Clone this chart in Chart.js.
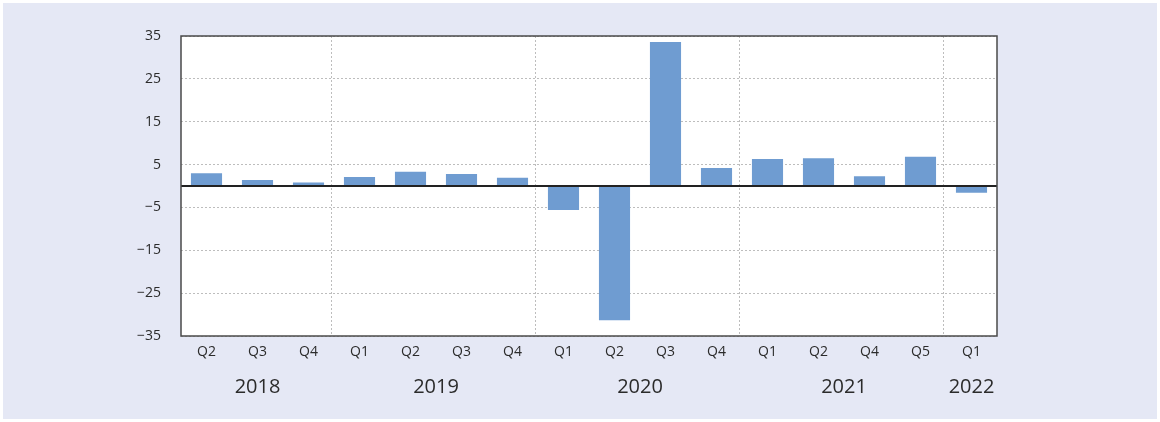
<!DOCTYPE html>
<html>
<head>
<meta charset="utf-8">
<script src="https://cdn.jsdelivr.net/npm/chart.js@4/dist/chart.umd.min.js"></script>
<style>
  html, body { margin: 0; padding: 0; background: #ffffff; }
  #moldura {
    position: absolute; left: 3px; top: 3px;
    width: 1154px; height: 416px;
    background: #e5e8f5;
  }
  #grafico { position: absolute; left: 0; top: 0; }
</style>
</head>
<body>
<div id="moldura"></div>
<canvas id="grafico" width="1160" height="422"></canvas>
<script>
// trimestres e variação (%) por trimestre
const trimestres = ['Q2', 'Q3', 'Q4', 'Q1', 'Q2', 'Q3', 'Q4', 'Q1', 'Q2', 'Q3', 'Q4', 'Q1', 'Q2', 'Q4', 'Q5', 'Q1'];
const valores = [3.0, 1.4, 0.8, 2.1, 3.3, 2.8, 1.9, -5.6, -31.3, 33.6, 4.2, 6.3, 6.5, 2.3, 6.8, -1.6];

// anos e quantos trimestres cada um tem no eixo
const anos = ['2018', '2019', '2020', '2021', '2022'];
const trimestresPorAno = [3, 4, 4, 4, 1];

const eixoMin = -35;
const eixoMax = 35;
const passo = 10;

const fonte = '"Open Sans", "Noto Sans", sans-serif';

// fundo branco, moldura, linha do zero, divisões e rótulos dos anos
const pluginAnos = {
    id: 'anos',
    beforeDraw(chart) {
        const { ctx, chartArea } = chart;
        ctx.save();
        ctx.fillStyle = '#ffffff';
        ctx.fillRect(chartArea.left, chartArea.top, chartArea.right - chartArea.left, chartArea.bottom - chartArea.top);
        ctx.restore();
    },
    beforeDatasetsDraw(chart) {
        const { ctx, chartArea, scales } = chart;
        const x = scales.x;
        ctx.save();
        ctx.strokeStyle = '#bdbdbd';
        ctx.lineWidth = 1;
        ctx.setLineDash([2, 2]);
        let idx = 0;
        for (let i = 0; i < trimestresPorAno.length - 1; i++) {
            idx += trimestresPorAno[i];
            const px = Math.round((x.getPixelForValue(idx - 1) + x.getPixelForValue(idx)) / 2) - 2.5;
            ctx.beginPath();
            ctx.moveTo(px, chartArea.top);
            ctx.lineTo(px, chartArea.bottom);
            ctx.stroke();
        }
        ctx.restore();
    },
    afterDatasetsDraw(chart) {
        const { ctx, chartArea, scales } = chart;
        const x = scales.x;
        const y = scales.y;
        ctx.save();
        // linha do zero
        const y0 = Math.round(y.getPixelForValue(0));
        ctx.strokeStyle = '#222222';
        ctx.lineWidth = 2;
        ctx.beginPath();
        ctx.moveTo(chartArea.left, y0);
        ctx.lineTo(chartArea.right, y0);
        ctx.stroke();
        // moldura
        ctx.strokeStyle = '#4a4a4a';
        ctx.lineWidth = 1.5;
        ctx.strokeRect(chartArea.left, chartArea.top, chartArea.right - chartArea.left, chartArea.bottom - chartArea.top);
        // anos
        ctx.fillStyle = '#2b2b2b';
        ctx.font = '20px ' + fonte;
        ctx.textAlign = 'center';
        ctx.textBaseline = 'middle';
        let inicio = 0;
        anos.forEach(function (ano, i) {
            const fim = inicio + trimestresPorAno[i] - 1;
            const cx = (x.getPixelForValue(inicio) + x.getPixelForValue(fim)) / 2;
            ctx.fillText(ano, cx, 387);
            inicio = fim + 1;
        });
        ctx.restore();
    }
};

const ctx = document.getElementById('grafico').getContext('2d');

new Chart(ctx, {
    type: 'bar',
    data: {
        labels: trimestres,
        datasets: [{
            data: valores,
            backgroundColor: '#6f9cd1',
            borderWidth: 0,
            barPercentage: 0.61,
            categoryPercentage: 1
        }]
    },
    options: {
        responsive: false,
        animation: false,
        layout: { padding: { left: 0, right: 163, top: 36, bottom: 0 } },
        plugins: {
            legend: { display: false },
            tooltip: { enabled: false }
        },
        scales: {
            x: {
                grid: { display: false, drawTicks: false },
                border: { display: false },
                ticks: {
                    color: '#2b2b2b',
                    font: { family: fonte, size: 14 },
                    padding: 8,
                    maxRotation: 0,
                    autoSkip: false
                },
                afterFit(scale) { scale.height = 86; }
            },
            y: {
                min: eixoMin,
                max: eixoMax,
                border: { display: false, dash: [2, 2] },
                grid: { color: '#bdbdbd', lineWidth: 1, drawTicks: false },
                ticks: {
                    stepSize: passo,
                    color: '#2b2b2b',
                    font: { family: fonte, size: 14 },
                    padding: 20,
                    callback: function (v) { return v < 0 ? '\u2212' + Math.abs(v) : v; }
                },
                afterFit(scale) { scale.width = 181; }
            }
        }
    },
    plugins: [pluginAnos]
});
</script>
</body>
</html>
